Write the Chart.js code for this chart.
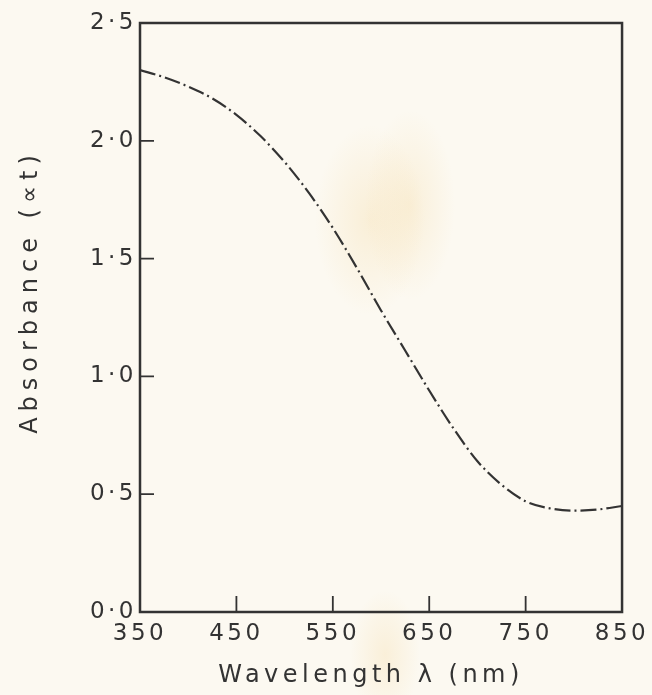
<!DOCTYPE html>
<html>
<head>
<meta charset="utf-8">
<script src="https://cdn.jsdelivr.net/npm/chart.js@4"></script>
<style>
  html, body { margin: 0; padding: 0; background: #fcf9f1; }
  #wrap { width: 652px; height: 695px; }
</style>
</head>
<body>
<div id="wrap"><canvas id="chart"></canvas></div>
<script>
// Wavelength (nm) and absorbance
const wavelengths = [350, 375, 400, 425, 450, 475, 500, 525, 550, 575, 600, 625, 650, 675, 700, 725, 750, 775, 800, 825, 850];
const absorbance  = [2.30, 2.27, 2.23, 2.18, 2.11, 2.02, 1.91, 1.78, 1.63, 1.46, 1.28, 1.11, 0.94, 0.78, 0.64, 0.54, 0.47, 0.44, 0.43, 0.435, 0.45];
const xTicks = [350, 450, 550, 650, 750, 850];
const yTicks = [0, 0.5, 1.0, 1.5, 2.0, 2.5];

const ink = '#333333';
const tickFont = { family: 'DejaVu Sans', size: 23 };
const titleFont = { family: 'DejaVu Sans', size: 24 };

// wider spacing for the axis titles (stencil lettering), and a small shift
function spaceTitle(scale, gap, dx, dy) {
  if (scale._spaced) return;
  const orig = scale.drawTitle.bind(scale);
  scale.drawTitle = function () {
    const c = this.ctx;
    c.save();
    c.letterSpacing = gap;
    c.translate(dx, dy);
    orig();
    c.restore();
  };
  scale._spaced = true;
}

// paper tint, faint stains, letter spacing
const paper = {
  id: 'paper',
  beforeDraw(chart) {
    const c = chart.ctx;
    c.save();
    c.fillStyle = '#fcf9f1';
    c.fillRect(0, 0, chart.width, chart.height);
    const stain = (x, y, rx, ry, a) => {
      c.save();
      c.translate(x, y);
      c.scale(1, ry / rx);
      const g = c.createRadialGradient(0, 0, 0, 0, 0, rx);
      g.addColorStop(0, 'rgba(242, 208, 140, ' + a + ')');
      g.addColorStop(1, 'rgba(242, 208, 140, 0)');
      c.fillStyle = g;
      c.fillRect(-rx, -rx, rx * 2, rx * 2);
      c.restore();
    };
    stain(370, 220, 55, 95, 0.26);
    stain(410, 205, 45, 95, 0.24);
    stain(385, 655, 35, 65, 0.24);
    c.restore();
    c.letterSpacing = '3.5px';
    spaceTitle(chart.scales.x, '4.5px', -10, 0);
    spaceTitle(chart.scales.y, '6px', 0, -26);
  }
};

// box round the plot and inward tick marks
const frame = {
  id: 'frame',
  afterDatasetsDraw(chart) {
    const c = chart.ctx;
    const { left, right, top, bottom } = chart.chartArea;
    const xs = chart.scales.x, ys = chart.scales.y;
    c.save();
    c.strokeStyle = ink;
    c.lineWidth = 2.5;
    c.strokeRect(left, top, right - left, bottom - top);
    c.lineWidth = 1.8;
    c.beginPath();
    xTicks.slice(1, -1).forEach(v => {
      const px = xs.getPixelForValue(v);
      c.moveTo(px, bottom);
      c.lineTo(px, bottom - 16);
    });
    yTicks.slice(1, -1).forEach(v => {
      const py = ys.getPixelForValue(v);
      c.moveTo(left, py);
      c.lineTo(left + 14, py);
    });
    c.stroke();
    c.restore();
  }
};

new Chart(document.getElementById('chart'), {
  type: 'line',
  data: {
    datasets: [{
      data: wavelengths.map((w, i) => ({ x: w, y: absorbance[i] })),
      borderColor: ink,
      borderWidth: 2.2,
      borderDash: [16, 4, 2, 4],
      pointRadius: 0,
      cubicInterpolationMode: 'monotone',
      fill: false
    }]
  },
  options: {
    responsive: true,
    maintainAspectRatio: false,
    animation: false,
    layout: { padding: { left: 12, top: 23, right: 29, bottom: 2 } },
    plugins: { legend: { display: false }, tooltip: { enabled: false } },
    scales: {
      x: {
        type: 'linear',
        min: 350, max: 850,
        afterBuildTicks: s => { s.ticks = xTicks.map(v => ({ value: v })); },
        afterFit: s => { s.height = 81; },
        grid: { display: false, drawTicks: false },
        border: { display: false },
        ticks: { color: ink, font: tickFont, padding: 8, maxRotation: 0 },
        title: { display: true, text: 'Wavelength λ (nm)', color: ink, font: titleFont, padding: 3 }
      },
      y: {
        min: 0, max: 2.5,
        afterBuildTicks: s => { s.ticks = yTicks.map(v => ({ value: v })); },
        afterFit: s => { s.width = 128; },
        grid: { display: false, drawTicks: false },
        border: { display: false },
        ticks: { color: ink, font: tickFont, padding: 3, callback: v => v.toFixed(1).replace('.', '·') },
        title: { display: true, text: 'Absorbance (∝t)', color: ink, font: titleFont, padding: 4 }
      }
    }
  },
  plugins: [paper, frame]
});
</script>
</body>
</html>
